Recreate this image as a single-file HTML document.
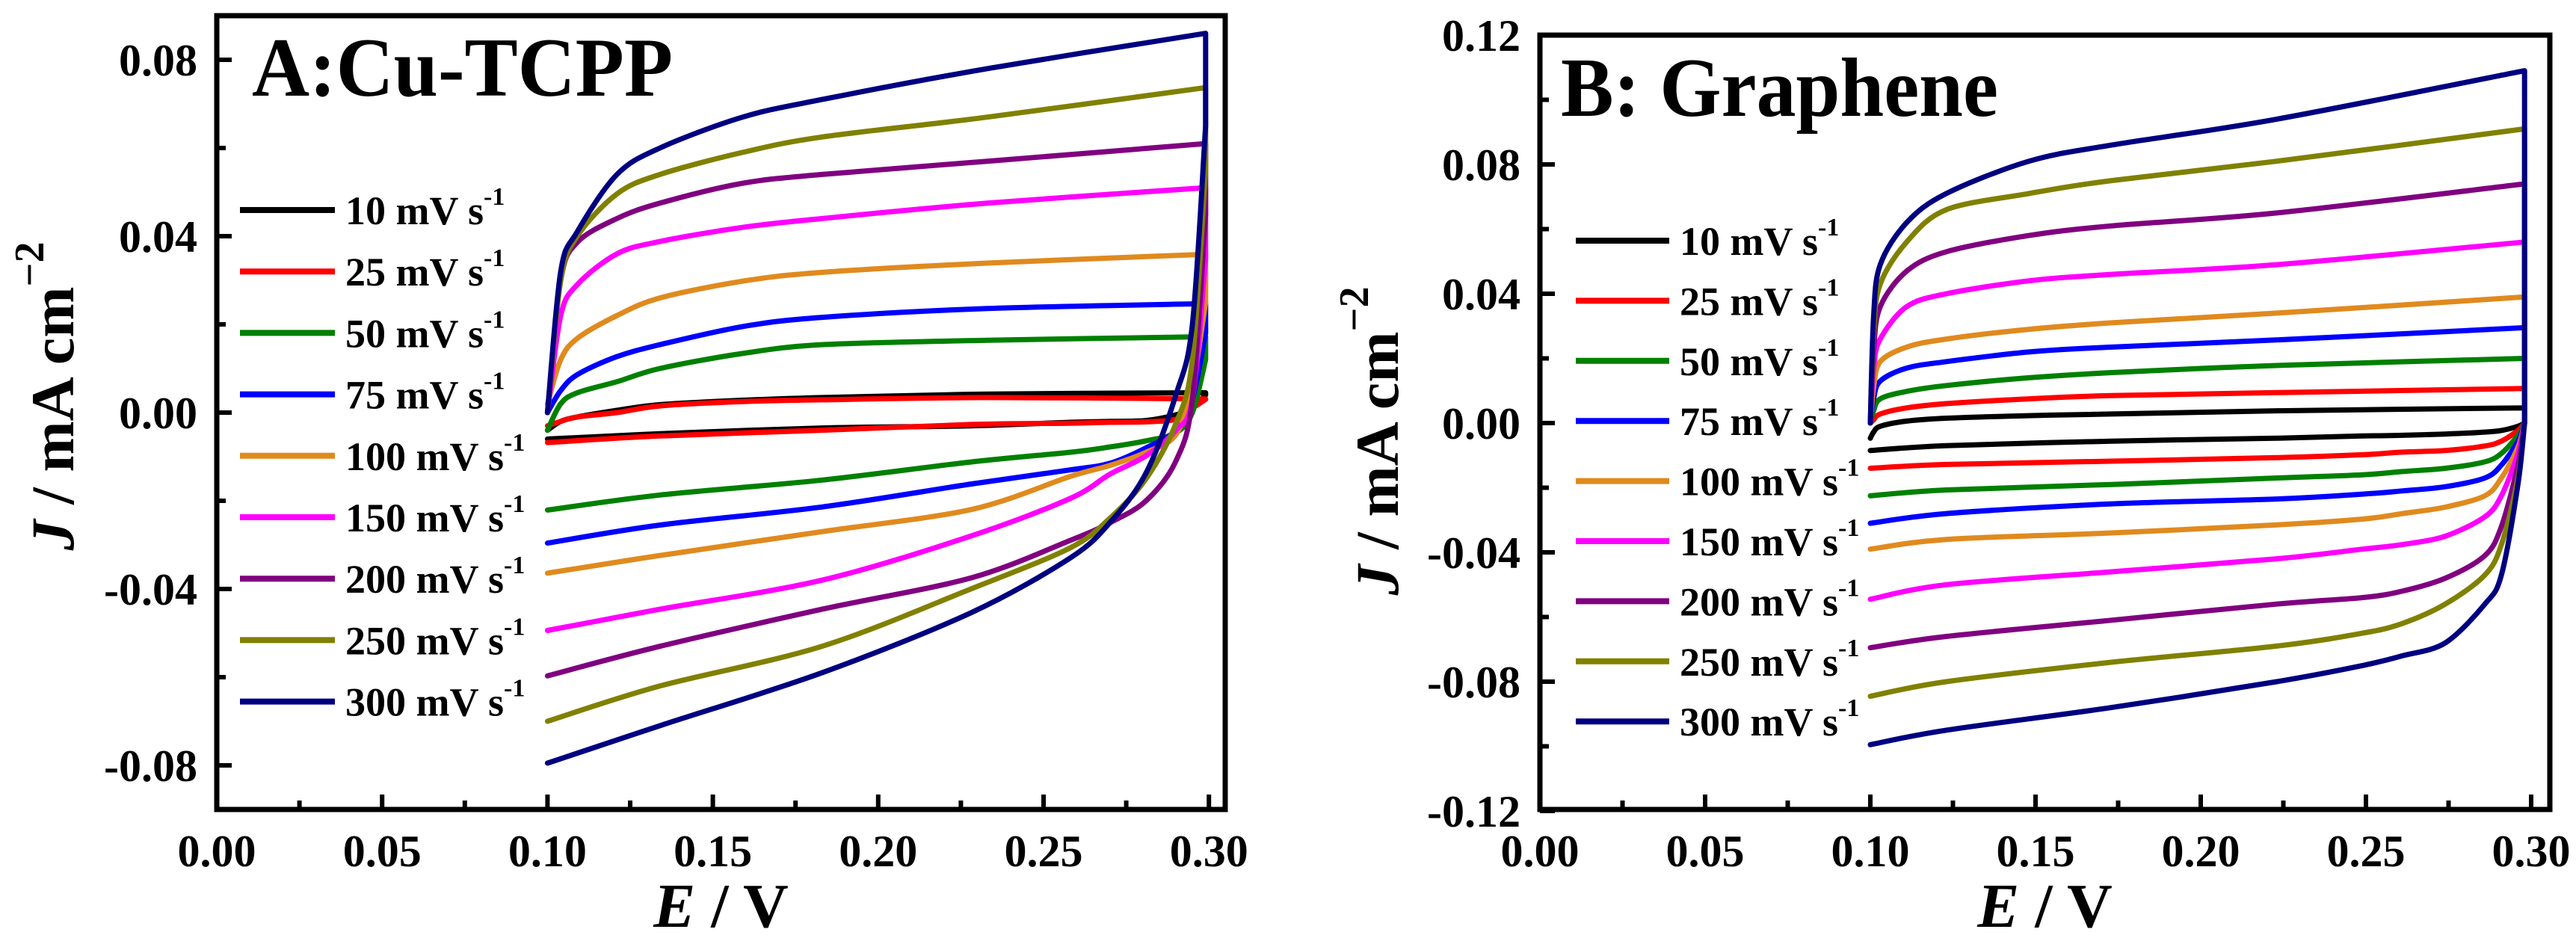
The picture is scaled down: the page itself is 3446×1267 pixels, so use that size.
<!DOCTYPE html>
<html><head><meta charset="utf-8"><style>
html,body{margin:0;padding:0;background:#fff;}
svg{display:block;}
text{font-family:"Liberation Serif",serif;font-weight:bold;fill:#000;}
</style></head><body>
<svg id="chart" width="3446" height="1267" viewBox="0 0 3446 1267" xmlns="http://www.w3.org/2000/svg">
<rect x="0" y="0" width="3446" height="1267" fill="#fff"/>
</svg>
<script>
// ---- shared data ----
const seriesLabels = ["10","25","50","75","100","150","200","250","300"];
const seriesColors = ["#000000","#ff0000","#008000","#0000ff","#e08a1e","#ff00ff","#800080","#808000","#000080"];

// Panel A (Cu-TCPP)
const aUpperE = [0.100,0.104,0.109,0.121,0.134,0.159,0.183,0.233,0.299];
const aLowerE = [0.299,0.295,0.290,0.281,0.270,0.258,0.228,0.183,0.134,0.100];
const aUp10 = [-0.004,-0.002,-0.001,0.0005,0.0018,0.0028,0.0034,0.0042,0.0045];
const aLo10 = [0.004,0.001,-0.0005,-0.0018,-0.002,-0.0022,-0.003,-0.0035,-0.0048,-0.006];
const aUp25 = [-0.003,-0.002,-0.001,0.000,0.0015,0.0025,0.0029,0.0034,0.0031];
const aLo25 = [0.003,0.001,-0.0015,-0.0021,-0.0022,-0.0024,-0.0027,-0.004,-0.0053,-0.0068];
const aUp50 = [-0.004,0.002,0.0045,0.007,0.010,0.0134,0.0154,0.0164,0.0172];
const aLo50 = [0.012,0.0,-0.0046,-0.0064,-0.0078,-0.009,-0.0112,-0.0153,-0.0187,-0.0221];
const aUp75 = [0.000,0.005,0.0086,0.0127,0.0154,0.0195,0.0216,0.0236,0.0247];
const aLo75 = [0.018,0.003,-0.004,-0.008,-0.0115,-0.013,-0.0162,-0.0214,-0.0255,-0.0296];
const aUp100 = [0.002,0.012,0.0168,0.022,0.026,0.0298,0.0318,0.0339,0.0359];
const aLo100 = [0.025,0.006,-0.005,-0.009,-0.012,-0.0145,-0.022,-0.027,-0.0324,-0.0364];
const aUp150 = [0.000,0.022,0.029,0.036,0.0388,0.042,0.044,0.0475,0.051];
const aLo150 = [0.035,0.003,-0.004,-0.0098,-0.014,-0.0195,-0.028,-0.038,-0.0446,-0.0494];
const aUp200 = [0.000,0.030,0.0386,0.044,0.0475,0.052,0.054,0.057,0.061];
const aLo200 = [0.045,0.003,-0.011,-0.020,-0.025,-0.029,-0.0375,-0.0446,-0.053,-0.0597];
const aUp250 = [0.000,0.030,0.040,0.0496,0.054,0.059,0.0625,0.067,0.0737];
const aLo250 = [0.055,0.012,-0.0025,-0.015,-0.024,-0.0307,-0.040,-0.053,-0.062,-0.070];
const aUp300 = [0.000,0.032,0.041,0.054,0.060,0.067,0.071,0.078,0.086];
const aLo300 = [0.065,0.020,0.004,-0.0137,-0.025,-0.033,-0.0454,-0.059,-0.071,-0.0795];

// Panel B (Graphene)
const bUpperE = [0.100,0.101,0.103,0.111,0.123,0.148,0.173,0.223,0.298];
const bLowerE = [0.298,0.296,0.291,0.286,0.274,0.261,0.249,0.223,0.173,0.123,0.100];
const bUp10 = [-0.0047,-0.0028,-0.001,0.0006,0.0015,0.0023,0.0028,0.0038,0.0047];
const bLo10 = [0.0,-0.001,-0.0023,-0.0028,-0.0034,-0.0038,-0.004,-0.0047,-0.0056,-0.007,-0.0085];
const bUp25 = [0.0,0.001,0.0028,0.0047,0.006,0.0075,0.0085,0.0094,0.0107];
const bLo25 = [0.0,-0.0023,-0.0056,-0.0071,-0.0085,-0.009,-0.0098,-0.0107,-0.0118,-0.0128,-0.014];
const bUp50 = [0.0,0.0038,0.0075,0.0098,0.0116,0.014,0.0156,0.0178,0.020];
const bLo50 = [0.0,-0.0038,-0.0094,-0.012,-0.014,-0.015,-0.016,-0.017,-0.019,-0.0207,-0.0225];
const bUp75 = [0.0,0.0075,0.013,0.017,0.019,0.022,0.0235,0.0257,0.0295];
const bLo75 = [0.0,-0.0056,-0.013,-0.017,-0.0197,-0.021,-0.022,-0.0235,-0.025,-0.028,-0.031];
const bUp100 = [0.0,0.011,0.019,0.0235,0.026,0.029,0.031,0.034,0.039];
const bLo100 = [0.0,-0.0075,-0.017,-0.0225,-0.026,-0.028,-0.0297,-0.0315,-0.034,-0.036,-0.039];
const bUp150 = [0.0,0.017,0.026,0.036,0.040,0.044,0.046,0.049,0.056];
const bLo150 = [0.0,-0.0094,-0.0225,-0.029,-0.035,-0.0376,-0.039,-0.042,-0.046,-0.050,-0.0545];
const bUp200 = [0.0,0.0225,0.036,0.047,0.053,0.058,0.061,0.065,0.074];
const bLo200 = [0.0,-0.013,-0.032,-0.041,-0.048,-0.052,-0.054,-0.056,-0.061,-0.066,-0.0695];
const bUp250 = [0.0,0.028,0.043,0.056,0.066,0.071,0.075,0.081,0.091];
const bLo250 = [0.0,-0.017,-0.0376,-0.047,-0.056,-0.062,-0.065,-0.069,-0.074,-0.080,-0.0845];
const bUp300 = [0.0,0.033,0.049,0.062,0.071,0.081,0.086,0.094,0.109];
const bLo300 = [0.0,-0.019,-0.047,-0.056,-0.068,-0.072,-0.075,-0.080,-0.088,-0.095,-0.0995];

const xTickLabels = ["0.00","0.05","0.10","0.15","0.20","0.25","0.30"];
const aYTickLabels = ["-0.08","-0.04","0.00","0.04","0.08"];
const bYTickLabels = ["-0.12","-0.08","-0.04","0.00","0.04","0.08","0.12"];

const aUps=[aUp10,aUp25,aUp50,aUp75,aUp100,aUp150,aUp200,aUp250,aUp300];
const aLos=[aLo10,aLo25,aLo50,aLo75,aLo100,aLo150,aLo200,aLo250,aLo300];
const bUps=[bUp10,bUp25,bUp50,bUp75,bUp100,bUp150,bUp200,bUp250,bUp300];
const bLos=[bLo10,bLo25,bLo50,bLo75,bLo100,bLo150,bLo200,bLo250,bLo300];

const NS="http://www.w3.org/2000/svg";
const svg=document.getElementById('chart');
function mk(tag,attrs,parent){const e=document.createElementNS(NS,tag);for(const k in attrs)e.setAttribute(k,attrs[k]);(parent||svg).appendChild(e);return e;}

function smoothPath(pts){
  let d="M"+pts[0][0].toFixed(1)+","+pts[0][1].toFixed(1);
  for(let i=0;i<pts.length-1;i++){
    const p0=pts[Math.max(i-1,0)],p1=pts[i],p2=pts[i+1],p3=pts[Math.min(i+2,pts.length-1)];
    const t=0.16;
    const c1=[p1[0]+(p2[0]-p0[0])*t,p1[1]+(p2[1]-p0[1])*t];
    const c2=[p2[0]-(p3[0]-p1[0])*t,p2[1]-(p3[1]-p1[1])*t];
    d+=" C"+c1[0].toFixed(1)+","+c1[1].toFixed(1)+" "+c2[0].toFixed(1)+","+c2[1].toFixed(1)+" "+p2[0].toFixed(1)+","+p2[1].toFixed(1);
  }
  return d;
}

function panel(cfg){
  const g=mk('g',{});
  
  
  const X=v=>cfg.x0+v/0.05*cfg.xs;
  const Y=v=>cfg.y0-v/0.04*cfg.ys;
  const cg=mk('g',{fill:'none','stroke-width':7,'stroke-linejoin':'round','stroke-linecap':'round'},g);
  for(let s=0;s<seriesLabels.length;s++){
    const up=cfg.ups[s],lo=cfg.los[s];
    const upPts=cfg.upE.map((e,i)=>[X(e),Y(up[i])]);
    const loPts=cfg.loE.map((e,i)=>[X(e),Y(lo[i])]);
    let d=smoothPath(upPts);
    d+=" L"+loPts[0][0].toFixed(1)+","+loPts[0][1].toFixed(1);
    d+=" "+smoothPath(loPts).replace(/^M/,"L");
    const p=mk('path',{d:d,stroke:seriesColors[s]},cg);
    
    
  }
  const fr=mk('rect',{x:cfg.x0,y:cfg.top,width:cfg.right-cfg.x0,height:cfg.bottom-cfg.top,fill:'none',stroke:'#000','stroke-width':7},g);
  
  
  for(let i=0;i<=12;i++){
    const v=i*0.025,px=X(v),len=(i%2==0)?20:12;
    mk('line',{x1:px,x2:px,y1:cfg.bottom,y2:cfg.bottom-len,stroke:'#000','stroke-width':6},g);
  }
  xTickLabels.forEach((t,i)=>{
    const tx=mk('text',{x:X(i*0.05),y:cfg.bottom+76,'font-size':60,'text-anchor':'middle'},g);
    tx.textContent=t;
    
    
  });
  const yMin=parseFloat(cfg.yLabels[0]);
  for(let v=yMin;v<=-yMin+1e-9;v+=0.02){
    const py=Y(v);const major=Math.abs(Math.round(v*100))%4==0;
    mk('line',{x1:cfg.x0,x2:cfg.x0+(major?20:12),y1:py,y2:py,stroke:'#000','stroke-width':6},g);
  }
  cfg.yLabels.forEach((t,i)=>{
    const v=parseFloat(t);
    const tx=mk('text',{x:cfg.x0-26,y:Y(v)+21,'font-size':60,'text-anchor':'end'},g);
    tx.textContent=t;
    
    
  });
  const xt=mk('text',{x:(cfg.x0+cfg.right)/2,y:1240,'font-size':84,'text-anchor':'middle'},g);
  xt.innerHTML='<tspan font-style="italic">E</tspan> / V';
  
  
  const yt=mk('text',{x:0,y:0,'font-size':82,'text-anchor':'middle',transform:'translate('+cfg.ytx+','+cfg.yty+') rotate(-90)'},g);
  yt.innerHTML='<tspan font-style="italic">J</tspan> / mA cm<tspan font-size="56" dy="-40">&#8722;2</tspan>';
  
  
  const pt=mk('text',{x:cfg.titleX,y:cfg.titleY,'font-size':112,textLength:cfg.titleW,lengthAdjust:'spacingAndGlyphs'},g);
  pt.textContent=cfg.title;
  
  
  const lg=mk('g',{},g);
  
  
  for(let s=0;s<seriesLabels.length;s++){
    const ry=cfg.legY+s*cfg.legDy;
    const ln=mk('line',{x1:cfg.legX1,x2:cfg.legX2,y1:ry,y2:ry,stroke:seriesColors[s],'stroke-width':8},lg);
    
    
    const tx=mk('text',{x:cfg.legX2+14,y:ry+19,'font-size':54},lg);
    tx.innerHTML=seriesLabels[s]+' mV s<tspan font-size="34" dy="-26">-1</tspan>';
    
    
  }
}

panel({name:'panel-a-cu-tcpp',x0:290,xs:221.2,y0:552,ys:236,top:21,bottom:1083,right:1639,
  ups:aUps,los:aLos,upE:aUpperE,loE:aLowerE,yLabels:aYTickLabels,
  ytx:98,yty:530,title:'A:Cu-TCPP',titleX:337,titleY:128,titleW:563,
  legX1:321,legX2:448,legY:281,legDy:82.2});
panel({name:'panel-b-graphene',x0:2060,xs:221,y0:566,ys:173,top:47,bottom:1083,right:3411,
  ups:bUps,los:bLos,upE:bUpperE,loE:bLowerE,yLabels:bYTickLabels,
  ytx:1870,yty:590,title:'B: Graphene',titleX:2088,titleY:155,titleW:585,
  legX1:2108,legX2:2233,legY:322,legDy:80.4});
</script>
</body></html>
